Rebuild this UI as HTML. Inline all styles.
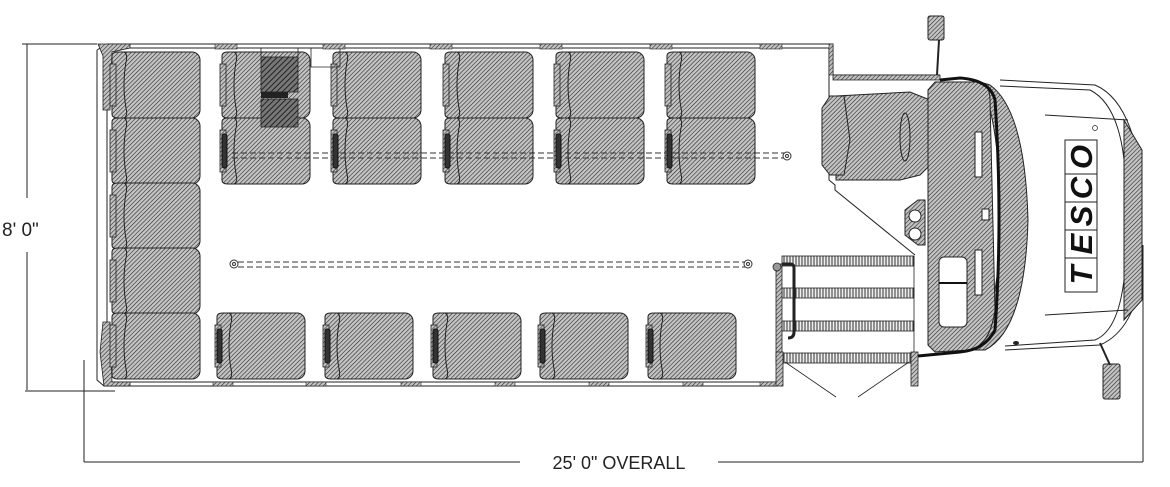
<!DOCTYPE html>
<html><head><style>
html,body{margin:0;padding:0;background:#fff;}
svg{display:block;}
text{font-family:"Liberation Sans",sans-serif;}
</style></head><body>
<svg width="1170" height="487" viewBox="0 0 1170 487" xmlns="http://www.w3.org/2000/svg">
<defs>
<pattern id="h" width="3" height="3" patternUnits="userSpaceOnUse" patternTransform="rotate(45)">
<rect width="3" height="3" fill="#c4c4c4"/><line x1="0" y1="0" x2="0" y2="3" stroke="#2a2a2a" stroke-width="1.2"/>
</pattern>
<pattern id="hd" width="4" height="4" patternUnits="userSpaceOnUse" patternTransform="rotate(45)">
<rect width="4" height="4" fill="#777"/><line x1="0" y1="0" x2="0" y2="4" stroke="#222" stroke-width="2"/>
</pattern>
<pattern id="v" width="3" height="3" patternUnits="userSpaceOnUse">
<rect width="3" height="3" fill="#eee"/><line x1="1" y1="0" x2="1" y2="3" stroke="#333" stroke-width="1"/>
</pattern>
<g id="seat">
<rect x="6" y="0" width="84" height="66" rx="8" fill="url(#h)" stroke="#222" stroke-width="1"/>
<path d="M2,4 Q2,0 8,0 L14,0 Q18,2 16,10 Q12,33 16,56 Q18,64 14,66 L8,66 Q2,66 2,62 Z" fill="url(#h)" stroke="#222" stroke-width="1"/>
<rect x="0" y="12" width="6" height="42" fill="url(#h)" stroke="#222" stroke-width="0.8"/>
</g>
<g id="seatb">
<use href="#seat"/>
<rect x="2" y="16" width="5" height="34" rx="2" fill="#333" stroke="#111"/>
</g>
</defs>

<line x1="27" y1="44" x2="27" y2="198" stroke="#222"/>
<line x1="27" y1="252" x2="27" y2="390" stroke="#222"/>
<line x1="22" y1="44" x2="97" y2="44" stroke="#222"/>
<line x1="25" y1="391" x2="115" y2="391" stroke="#222"/>
<text x="2" y="236" font-size="19" fill="#222">8' 0"</text>
<line x1="84" y1="360" x2="84" y2="462" stroke="#222"/>
<line x1="1143" y1="245" x2="1143" y2="462" stroke="#222"/>
<line x1="84" y1="462" x2="520" y2="462" stroke="#222"/>
<line x1="718" y1="462" x2="1143" y2="462" stroke="#222"/>
<text x="619" y="469" font-size="18" fill="#222" text-anchor="middle">25' 0" OVERALL</text>

<path d="M97,50 L107,44 L833,44 L833,75 L940,75" fill="none" stroke="#222" stroke-width="1"/>
<path d="M107,48 L829,48 L829,75" fill="none" stroke="#222" stroke-width="1"/>
<path d="M97,50 L97,380 L104,386 L777,386 L777,352" fill="none" stroke="#222" stroke-width="1"/>
<line x1="104" y1="382" x2="777" y2="382" stroke="#222"/>
<line x1="107" y1="50" x2="107" y2="380" stroke="#222"/>
<path d="M98,44 L130,44 L130,48 L112,52 L110,110 L103,110 L103,56 Z" fill="url(#h)" stroke="#222" stroke-width="0.8"/>
<path d="M103,322 L110,322 L112,382 L130,382 L130,386 L104,386 L100,352 Z" fill="url(#h)" stroke="#222" stroke-width="0.8"/>
<g fill="url(#h)" stroke="#222" stroke-width="0.6">
<rect x="215" y="44" width="22" height="5"/><rect x="323" y="44" width="22" height="5"/><rect x="430" y="44" width="22" height="5"/><rect x="540" y="44" width="22" height="5"/><rect x="650" y="44" width="22" height="5"/><rect x="760" y="44" width="22" height="5"/>
<rect x="213" y="382" width="20" height="4"/><rect x="306" y="382" width="20" height="4"/><rect x="401" y="382" width="20" height="4"/><rect x="495" y="382" width="20" height="4"/><rect x="589" y="382" width="20" height="4"/><rect x="683" y="382" width="20" height="4"/><rect x="760" y="382" width="17" height="4"/>
<rect x="829" y="44" width="4" height="31"/>
</g>

<use href="#seat" x="110" y="52"/>
<use href="#seat" x="110" y="118"/>
<use href="#seat" x="110" y="183"/>
<use href="#seat" x="110" y="248"/>
<use href="#seat" x="110" y="313"/>
<use href="#seat" x="220" y="52"/><use href="#seatb" x="220" y="118"/>
<use href="#seat" x="331" y="52"/><use href="#seatb" x="331" y="118"/>
<use href="#seat" x="443" y="52"/><use href="#seatb" x="443" y="118"/>
<use href="#seat" x="554" y="52"/><use href="#seatb" x="554" y="118"/>
<use href="#seat" x="665" y="52"/><use href="#seatb" x="665" y="118"/>
<use href="#seatb" x="215" y="313"/>
<use href="#seatb" x="323" y="313"/>
<use href="#seatb" x="431" y="313"/>
<use href="#seatb" x="538" y="313"/>
<use href="#seatb" x="646" y="313"/>

<rect x="261" y="57" width="37" height="35" fill="url(#hd)" stroke="#222" stroke-width="0.8"/>
<rect x="261" y="99" width="37" height="28" fill="url(#hd)" stroke="#222" stroke-width="0.8"/>
<rect x="261" y="92" width="27" height="6" fill="#222"/>
<path d="M261,48 L261,57 M298,48 L298,57 M311,48 L311,67 L340,67 M340,48 L340,67" stroke="#222" fill="none" stroke-width="0.8"/>

<g stroke="#333" stroke-dasharray="6,3" stroke-width="0.9">
<line x1="232" y1="153" x2="786" y2="153"/><line x1="232" y1="158" x2="786" y2="158"/>
<line x1="238" y1="262" x2="746" y2="262"/><line x1="238" y1="267" x2="746" y2="267"/>
</g>
<g fill="#fff" stroke="#333"><circle cx="787" cy="156" r="4"/><circle cx="787" cy="156" r="1.5"/>
<circle cx="234" cy="264" r="4"/><circle cx="234" cy="264" r="1.5"/><circle cx="748" cy="264" r="4"/><circle cx="748" cy="264" r="1.5"/></g>

<g stroke="#222" stroke-width="0.8">
<rect x="782" y="256" width="132" height="10" fill="url(#v)"/>
<rect x="782" y="288" width="132" height="10" fill="url(#v)"/>
<rect x="782" y="321" width="132" height="10" fill="url(#v)"/>
<rect x="782" y="353" width="132" height="10" fill="url(#v)"/>
<rect x="776" y="264" width="6" height="100" fill="url(#h)"/>
<rect x="776" y="352" width="7" height="34" fill="url(#h)"/>
<rect x="911" y="352" width="7" height="34" fill="url(#h)"/>
<path d="M782,264 L790,264 Q794,264 794,268 L794,332 Q794,338 788,338" fill="none" stroke-width="3"/>
<circle cx="777" cy="267" r="4" fill="#999"/>
<line x1="914" y1="256" x2="914" y2="352"/>
<line x1="785" y1="362" x2="836" y2="397"/><line x1="909" y1="362" x2="858" y2="397"/>
</g>

<path d="M829,75 L829,180 L835,185 L835,190 L915,255" fill="none" stroke="#222"/>
<path d="M833,75 L940,75 L940,80 L833,80 Z" fill="url(#h)" stroke="#222" stroke-width="0.8"/>
<path d="M836,96 L910,92 L930,100 L930,165 L920,175 L900,180 L836,180 Z" fill="url(#h)" stroke="#222"/>
<path d="M822,108 L830,96 L844,96 L850,140 L844,175 L830,175 L822,165 Z" fill="url(#h)" stroke="#222"/>
<ellipse cx="905" cy="137" rx="5" ry="24" fill="url(#h)" stroke="#222"/>
<path d="M990,85 Q1025,110 1028,220 Q1025,330 985,350 L970,350 Q1000,320 1000,220 Q1000,120 980,82 Z" fill="url(#h)" stroke="#222"/>
<path d="M928,90 L935,82 L980,82 Q990,85 990,100 L995,310 Q990,345 970,350 L935,352 L928,345 Z" fill="url(#h)" stroke="#222"/>
<path d="M940,80 L960,78 Q990,80 995,100 Q1003,220 995,330 Q985,350 960,352 L918,356" fill="none" stroke="#111" stroke-width="3"/>
<rect x="975" y="132" width="7" height="45" fill="#fff" stroke="#222"/>
<rect x="975" y="250" width="7" height="45" fill="#fff" stroke="#222"/>
<rect x="982" y="209" width="7" height="11" fill="#fff" stroke="#222"/>
<rect x="939" y="257" width="28" height="70" rx="5" fill="#fff" stroke="#222"/>
<line x1="939" y1="283" x2="967" y2="283" stroke="#111" stroke-width="2"/>
<path d="M905,210 L918,200 L925,200 L925,245 L918,245 L905,235 Z" fill="url(#h)" stroke="#222"/>
<circle cx="915" cy="216" r="6" fill="#fff" stroke="#222"/><circle cx="915" cy="234" r="6" fill="#fff" stroke="#222"/>
<path d="M1000,80 L1095,85 Q1130,100 1140,170 L1142,270 Q1135,330 1100,345 L1005,350" fill="none" stroke="#222"/>
<path d="M1000,86 L1090,90 Q1120,105 1125,170 L1125,270 Q1120,330 1095,340 L1005,346" fill="none" stroke="#222"/>
<path d="M1124,120 L1142,150 L1142,300 L1124,320 Z" fill="url(#h)" stroke="#222"/>
<line x1="1045" y1="115" x2="1128" y2="120" stroke="#222"/>
<line x1="1045" y1="315" x2="1128" y2="310" stroke="#222"/>
<g transform="translate(1081,220) rotate(-90)">
<g stroke="#222" fill="#fff">
<rect x="-72" y="-16" width="34" height="32"/><rect x="-38" y="-16" width="28" height="32"/><rect x="-10" y="-16" width="28" height="32"/><rect x="18" y="-16" width="28" height="32"/><rect x="46" y="-16" width="34" height="32"/>
</g>
<g font-size="31" font-weight="bold" font-style="italic" text-anchor="middle" fill="#111">
<text x="-55" y="11">T</text><text x="-24" y="11">E</text><text x="4" y="11">S</text><text x="32" y="11">C</text><text x="63" y="11">O</text>
</g>
</g>
<circle cx="1095" cy="128" r="2.5" fill="none" stroke="#222" stroke-width="0.7"/>
<rect x="928" y="16" width="16" height="24" rx="2" fill="url(#h)" stroke="#222"/>
<line x1="939" y1="40" x2="937" y2="75" stroke="#222" stroke-width="2"/>
<rect x="1103" y="364" width="17" height="35" rx="2" fill="url(#h)" stroke="#222"/>
<line x1="1100" y1="343" x2="1110" y2="365" stroke="#222" stroke-width="2"/>
<ellipse cx="1016" cy="343" rx="3" ry="2" fill="#222"/>
</svg>
</body></html>
